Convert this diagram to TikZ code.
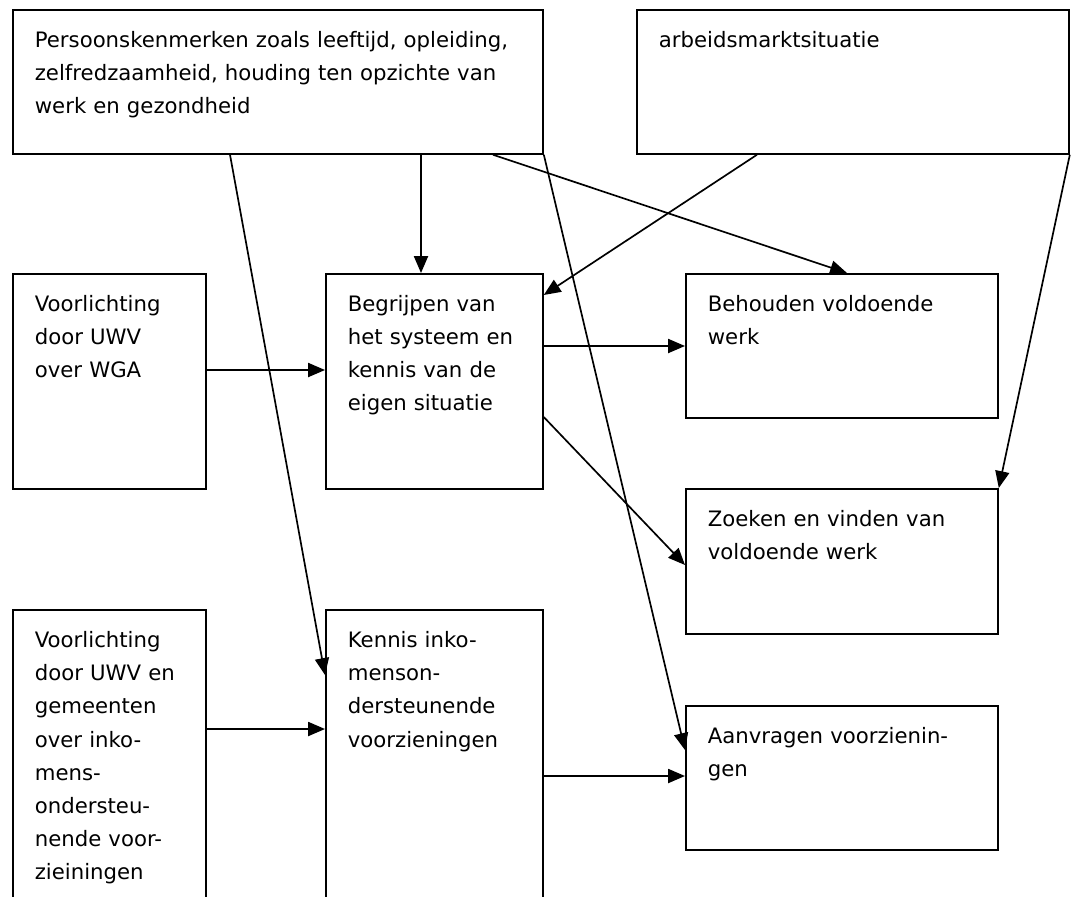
\documentclass[tikz,border=0pt]{standalone}
\usepackage{fontspec}
\setmainfont{DejaVu Sans}
\usetikzlibrary{calc,arrows.meta}
\tikzset{
  kader/.style 2 args={draw, line width=1.2pt, anchor=north west, align=left,
    inner xsep=0.55cm, inner ysep=0pt, text width=#1, text height=0.95cm, text depth=#2,
    font=\fontsize{15.1}{23.5}\selectfont},
  pijl/.style={line width=1.2pt, -{Triangle[length=12pt,width=10pt]}}
}
\def\kader{\node[kader]}

\begin{document}
\begin{tikzpicture}[x=0.025cm,y=-0.025cm]
\useasboundingbox (0,0) rectangle (1077,896);
\clip (0,0) rectangle (1077,896);
\node[kader={12.15cm}{2.65cm}] (pers) at (12,9) {Persoonskenmerken zoals leeftijd, opleiding,\\ zelfredzaamheid, houding ten opzichte van\\ werk en gezondheid};
\node[kader={9.7cm}{2.65cm}] (arbeid) at (636,9) {arbeidsmarktsituatie};
\node[kader={3.725cm}{4.425cm}] (vlwga) at (12,273) {Voorlichting\\ door UWV\\ over WGA};
\node[kader={4.325cm}{4.425cm}] (begrip) at (325,273) {Begrijpen van\\ het systeem en\\ kennis van de\\ eigen situatie};
\node[kader={6.7cm}{2.65cm}] (behoud) at (685,273) {Behouden voldoende\\ werk};
\node[kader={6.7cm}{2.675cm}] (zoek) at (685,488) {Zoeken en vinden van\\ voldoende werk};
\node[kader={3.725cm}{6.55cm}] (vlink) at (12,609) {Voorlichting\\ door UWV en\\ gemeenten\\ over inko-\\ mens-\\ ondersteu-\\ nende voor-\\ zieiningen};
\node[kader={4.325cm}{6.55cm}] (kennis) at (325,609) {Kennis inko-\\ menson-\\ dersteunende\\ voorzieningen};
\node[kader={6.7cm}{2.65cm}] (aanvr) at (685,705) {Aanvragen voorzienin-\\ gen};

\coordinate (p1) at ($(pers.south west)+(218,0)$);
\coordinate (p2) at ($(pers.south west)+(409,0)$);
\coordinate (p3) at ($(pers.south west)+(481,0)$);
\coordinate (a1) at ($(arbeid.south west)+(121,0)$);

\draw[pijl] (p1) -- ($(kennis.north west)+(0,66)$);
\draw[pijl] (p2) -- (p2 |- begrip.north);
\draw[pijl] (p3) -- ($(behoud.north west)+(162,0)$);
\draw[pijl] (pers.south east) -- ($(aanvr.north west)+(0,45)$);
\draw[pijl] (a1) -- ($(begrip.north east)+(0,22)$);
\draw[pijl] (arbeid.south east) -- (zoek.north east);
\draw[pijl] ($(vlwga.north east)+(0,97)$) -- ($(begrip.north west)+(0,97)$);
\draw[pijl] ($(begrip.north east)+(0,73)$) -- ($(behoud.north west)+(0,73)$);
\draw[pijl] ($(begrip.north east)+(0,144)$) -- ($(zoek.north west)+(0,77)$);
\draw[pijl] ($(vlink.north east)+(0,120)$) -- ($(kennis.north west)+(0,120)$);
\draw[pijl] ($(kennis.north east)+(0,167)$) -- ($(aanvr.north west)+(0,71)$);
\end{tikzpicture}
\end{document}
